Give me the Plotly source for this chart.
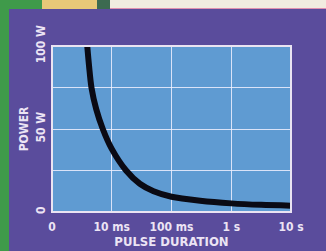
import plotly.graph_objects as go

# tick categories (positions on the evenly spaced duration axis)
x_tick_pos = [0, 1, 2, 3, 4]
x_tick_labels = ["0", "10 ms", "100 ms", "1 s", "10 s"]
y_tick_vals = [0, 25, 50, 75, 100]
y_tick_labels = ["0", "", "50 W", "", "100 W"]

# curve: position on duration axis vs power (W)
curve_pos = [0.59, 0.62, 0.66, 0.74, 0.85, 1.0, 1.24, 1.47, 1.7, 2.0, 2.48, 3.0, 3.5, 4.0]
curve_power = [100, 88, 75, 62, 50, 38, 25, 17, 12.5, 9.2, 6.8, 5.2, 4.3, 3.8]

PURPLE = "#5a4c9c"
BLUE = "#5f9bd2"
TXT = "#ece4f4"
FONT = "DejaVu Sans Condensed, Liberation Sans Narrow, sans-serif"

fig = go.Figure()
fig.add_trace(go.Scatter(
    x=curve_pos, y=curve_power, mode="lines",
    line=dict(color="#0a0a14", width=6, shape="spline", smoothing=0.8),
    hoverinfo="skip", showlegend=False,
))

H = 166  # plot height px
W = 239  # plot width px

fig.update_layout(
    width=326, height=251,
    margin=dict(l=52, r=35, t=46, b=39),
    paper_bgcolor=PURPLE,
    plot_bgcolor=BLUE,
    showlegend=False,
    font=dict(family=FONT, color=TXT, size=12),
    xaxis=dict(
        range=[0, 4], tickvals=x_tick_pos, ticktext=x_tick_labels,
        showgrid=True, gridcolor="rgba(240,240,255,0.85)", gridwidth=1,
        zeroline=False, showline=False, ticks="", ticklabelstandoff=6,
        automargin=False,
        tickfont=dict(family=FONT, size=12, color=TXT, weight="bold"),
        title=dict(text="PULSE DURATION", standoff=2,
                   font=dict(family=FONT, size=13, color=TXT, weight="bold")),
    ),
    yaxis=dict(
        range=[0, 100], tickvals=y_tick_vals,
        ticktext=y_tick_labels, tickangle=-90,
        showgrid=True, gridcolor="rgba(240,240,255,0.85)", gridwidth=1,
        zeroline=False, showline=False, ticks="", ticklabelstandoff=4,
        automargin=False,
        tickfont=dict(family=FONT, size=12, color=TXT, weight="bold"),
        title=dict(text="POWER", standoff=2,
                   font=dict(family=FONT, size=12, color=TXT, weight="bold")),
    ),
    shapes=[
        # left green strip
        dict(type="rect", xref="paper", yref="paper", x0=-52/W, x1=-43/W,
             y0=-39/H, y1=(H + 46) / H, fillcolor="#3f9a4a", line_width=0, layer="above"),
        # top photo strip
        dict(type="rect", xref="paper", yref="paper", x0=-43/W, x1=274/W,
             y0=(H + 37) / H, y1=(H + 46) / H, fillcolor="#f2ece0", line_width=0, layer="above"),
        dict(type="rect", xref="paper", yref="paper", x0=-43/W, x1=-10/W,
             y0=(H + 37) / H, y1=(H + 46) / H, fillcolor="#3f9a4a", line_width=0, layer="above"),
        dict(type="rect", xref="paper", yref="paper", x0=-10/W, x1=45/W,
             y0=(H + 37) / H, y1=(H + 46) / H, fillcolor="#e8c878", line_width=0, layer="above"),
        dict(type="rect", xref="paper", yref="paper", x0=45/W, x1=58/W,
             y0=(H + 37) / H, y1=(H + 46) / H, fillcolor="#3c6a50", line_width=0, layer="above"),
        dict(type="line", xref="paper", yref="paper", x0=58/W, x1=274/W,
             y0=(H + 37.5) / H, y1=(H + 37.5) / H, line=dict(color="#e090b0", width=1), layer="above"),
        # plot frame
        dict(type="rect", xref="paper", yref="paper", x0=0, x1=1, y0=0, y1=1,
             line=dict(color="#eae4f2", width=2), layer="above"),
    ],
)

fig.write_html("out.html", config={"displayModeBar": False},
               post_script="document.body.style.margin='0';document.body.style.overflow='hidden';")
